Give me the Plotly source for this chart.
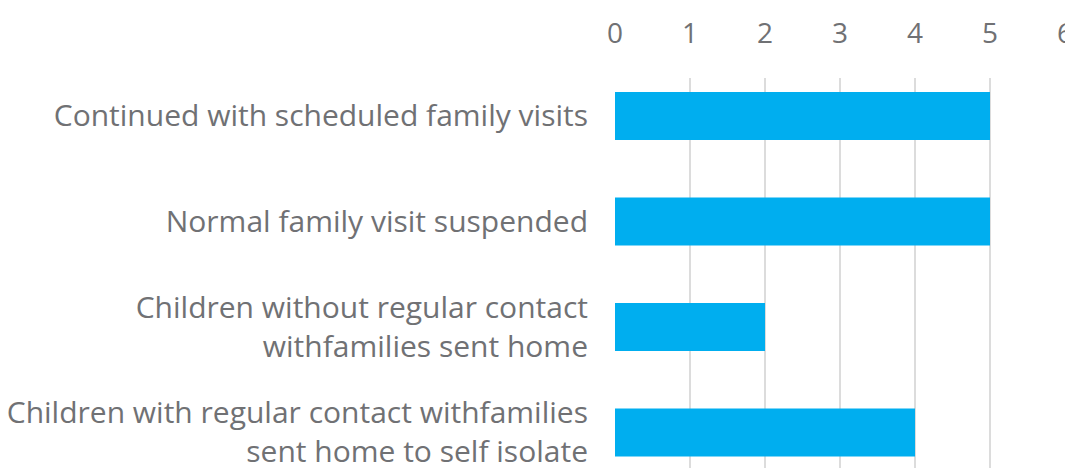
import plotly.graph_objects as go

categories = [
    "Continued with scheduled family visits",
    "Normal family visit suspended",
    "Children without regular contact<br>withfamilies sent home",
    "Children with regular contact withfamilies<br>sent home to self isolate",
]
values = [5, 5, 2, 4]
x_ticks = [0, 1, 2, 3, 4, 5, 6]

grey = "#707174"

fig = go.Figure(go.Bar(
    x=values,
    y=categories,
    orientation="h",
    marker=dict(color="#00AEEF", line=dict(width=0)),
    hoverinfo="x+y",
))

fig.update_layout(
    width=1065, height=468,
    margin=dict(l=615, r=0, t=78, b=0),
    paper_bgcolor="white", plot_bgcolor="white",
    bargap=0.545,
    showlegend=False,
    font=dict(family="Open Sans", size=28, color=grey),
)

fig.update_xaxes(
    side="top", range=[0, 6], tickvals=x_ticks,
    showgrid=True, gridcolor="#dcdcdc", gridwidth=2,
    zeroline=False, showline=False, ticks="",
    automargin=False,
    ticklabeloverflow="allow",
    ticklabelstandoff=28,
    tickfont=dict(size=28, color=grey),
)

fig.update_yaxes(
    range=[3.337, -0.36],
    showgrid=False, zeroline=False, showline=False, ticks="",
    automargin=False,
    ticklabelstandoff=26,
    tickfont=dict(size=30, color=grey),
)

# drop the default page margin / scrollbars so the figure sits at 0,0
fig.write_html(
    "out.html",
    config={"displayModeBar": False},
    post_script="document.body.style.margin='0';document.body.style.overflow='hidden';",
)
